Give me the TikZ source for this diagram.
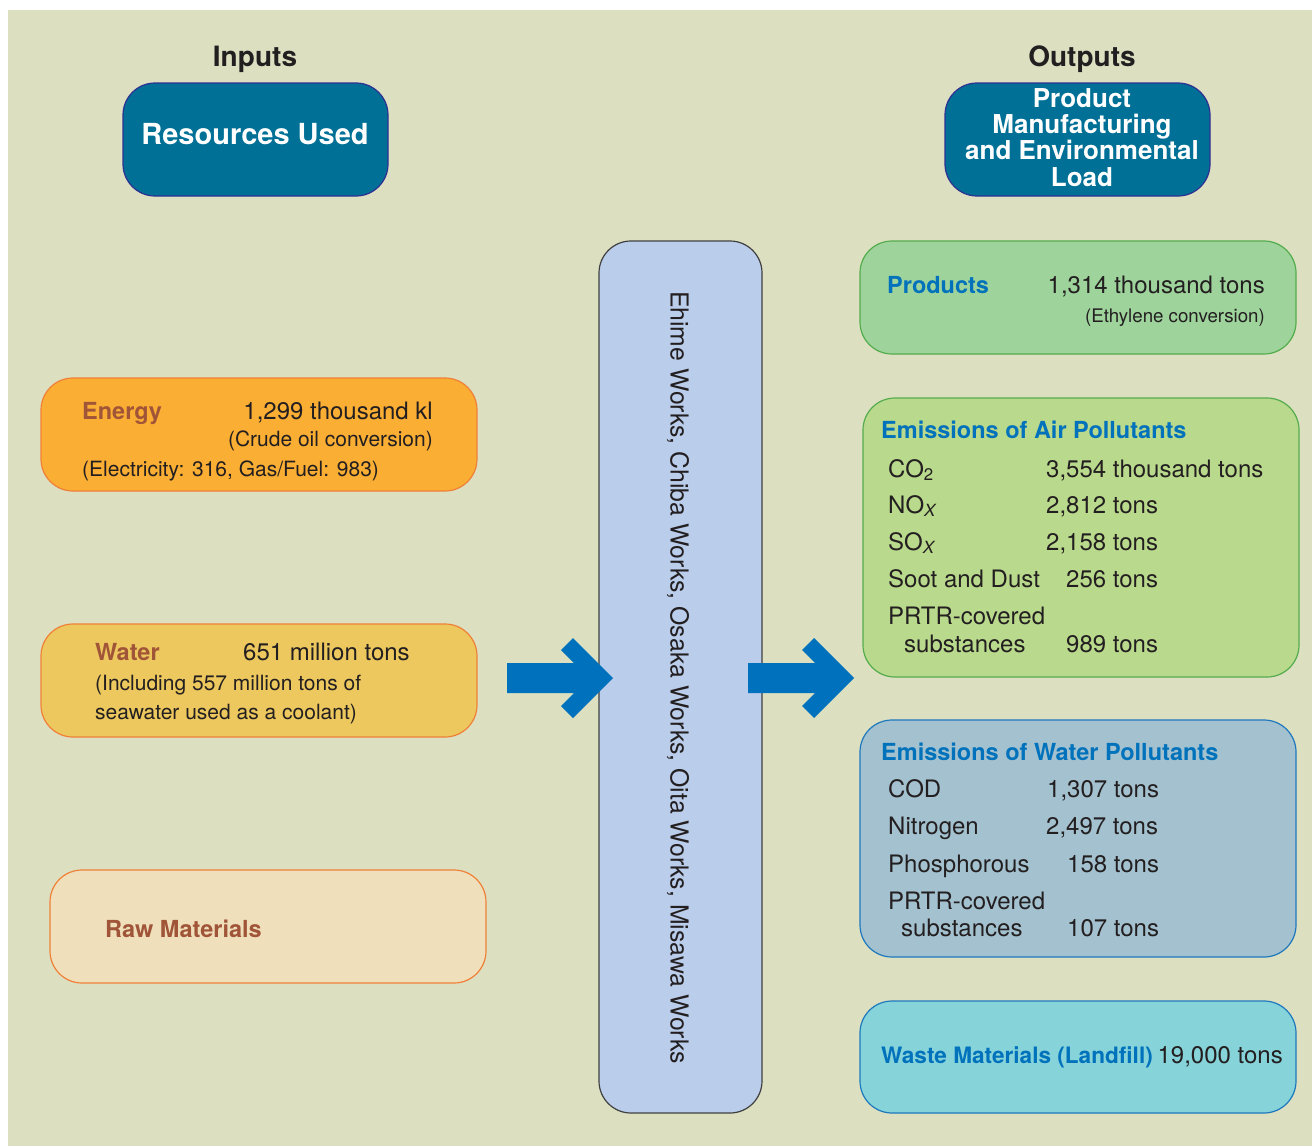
\documentclass[tikz,border=0pt]{standalone}
\usepackage{fontspec}
\setmainfont{TeX Gyre Heros}
\definecolor{bgpaper}{RGB}{220,224,193}
\definecolor{hdfill}{RGB}{0,112,150}
\definecolor{hdline}{RGB}{46,49,146}
\definecolor{ink}{RGB}{35,31,32}
\definecolor{orangeline}{RGB}{240,128,56}
\definecolor{energyfill}{RGB}{250,174,52}
\definecolor{waterfill}{RGB}{236,200,94}
\definecolor{rawfill}{RGB}{239,223,187}
\definecolor{rawtext}{RGB}{160,84,56}
\definecolor{worksfill}{RGB}{186,205,235}
\definecolor{worksline}{RGB}{64,64,64}
\definecolor{arrowblue}{RGB}{0,113,188}
\definecolor{prodfill}{RGB}{158,211,156}
\definecolor{greenline}{RGB}{84,172,76}
\definecolor{airfill}{RGB}{185,217,140}
\definecolor{wpolfill}{RGB}{163,193,206}
\definecolor{blueline}{RGB}{30,120,190}
\definecolor{wastefill}{RGB}{134,211,218}
\definecolor{titleblue}{RGB}{0,114,188}

\begin{document}
\begin{tikzpicture}[x=1pt,y=-1pt,
    box/.style={draw,rounded corners=32pt,line width=1.2pt,inner sep=0pt},
    head/.style={font=\fontsize{28}{30}\selectfont\bfseries,text=ink,inner sep=0pt,anchor=base},
    hdtext/.style={font=\fontsize{28}{26.5}\selectfont\bfseries,text=white,inner sep=0pt,anchor=base},
    lbl/.style={font=\fontsize{23.5}{26}\selectfont\bfseries,text=rawtext,inner sep=0pt,anchor=base west},
    ttl/.style={font=\fontsize{23.5}{26}\selectfont\bfseries,text=titleblue,inner sep=0pt,anchor=base west},
    val/.style={font=\fontsize{24}{28}\selectfont,text=ink,inner sep=0pt,anchor=base west},
    note/.style={font=\fontsize{21}{24}\selectfont,text=ink,inner sep=0pt,anchor=base west}]

    \useasboundingbox (0,0) rectangle (1312,1146);
    \fill[white] (0,0) rectangle (1312,1146);
    \fill[bgpaper] (8,10) rectangle (1312,1146);

    % headings
    \node[head] (inlbl) at (255,66) {Inputs};
    \node[head] (outlbl) at (1082,66) {Outputs};
    \node[box,draw=hdline,fill=hdfill,minimum width=265pt,minimum height=113pt] (resbox) at (255.5,139.5) {};
    \node[hdtext,font=\fontsize{29}{30}\selectfont\bfseries] (restxt) at (255,144) {Resources Used};
    \node[box,draw=hdline,fill=hdfill,minimum width=265pt,minimum height=113pt] (loadbox) at (1077.5,139.5) {};
    % base of a multi-line node is its last line
    \node[hdtext,font=\fontsize{26}{26.3}\selectfont\bfseries,align=center] (loadtxt) at (1082,186)
        {Product\\Manufacturing\\and Environmental\\Load};

    % inputs
    \node[box,draw=orangeline,fill=energyfill,minimum width=436pt,minimum height=113pt] (energy) at (259,434.5) {};
    \node[lbl] (energylbl) at (82,419) {Energy};
    \node[val,anchor=base east] (energyval) at (433,419) {1,299 thousand kl};
    \node[note,anchor=base east] (energynote) at (433,446) {(Crude oil conversion)};
    \node[note] (energysplit) at (82,476) {(Electricity: 316, Gas/Fuel: 983)};

    \node[box,draw=orangeline,fill=waterfill,minimum width=436pt,minimum height=113pt] (water) at (259,680.5) {};
    \node[lbl] (waterlbl) at (95,660) {Water};
    \node[val] (waterval) at (243,660) {651 million tons};
    \node[note] (waternote) at (95,690) {(Including 557 million tons of};
    \node[note] (waternotetwo) at (95,719) {seawater used as a coolant)};

    \node[box,draw=orangeline,fill=rawfill,minimum width=436pt,minimum height=113pt] (raw) at (268,926.5) {};
    \node[lbl] (rawlbl) at (105,937) {Raw Materials};

    % works
    \node[box,draw=worksline,fill=worksfill,minimum width=163pt,minimum height=872pt] (works) at (680.5,677) {};
    \node[font=\fontsize{24.8}{28}\selectfont,text=ink,rotate=-90,inner sep=0pt] (workstxt) at (678,677.5)
        {Ehime Works, Chiba Works, Osaka Works, Oita Works, Misawa Works};

    % outputs
    \node[box,draw=greenline,fill=prodfill,minimum width=436pt,minimum height=113pt] (products) at (1078,297.5) {};
    \node[ttl] (prodlbl) at (887,293) {Products};
    \node[val,anchor=base east] (prodval) at (1265,293) {1,314 thousand tons};
    \node[note,font=\fontsize{18.7}{22}\selectfont,anchor=base east] (prodnote) at (1265,322) {(Ethylene conversion)};

    \node[box,draw=greenline,fill=airfill,minimum width=436pt,minimum height=279pt] (air) at (1081,537.5) {};
    \node[ttl] (airlbl) at (881,438.5) {Emissions of Air Pollutants};
    \node[val] (coname) at (888,477) {CO\textsubscript{2}};
    \node[val] (coval) at (1046,477) {3,554 thousand tons};
    \node[val] (noname) at (888,513) {NO\textsubscript{\textit{X}}};
    \node[val] (noval) at (1046,513) {2,812 tons};
    \node[val] (soname) at (888,550) {SO\textsubscript{\textit{X}}};
    \node[val] (soval) at (1046,550) {2,158 tons};
    \node[val] (sootname) at (888,587) {Soot and Dust};
    \node[val] (sootval) at (1066,587) {256 tons};
    \node[val] (airprtr) at (888,624) {PRTR-covered};
    \node[val] (airsubst) at (904,652) {substances};
    \node[val] (airprtrval) at (1066,652) {989 tons};

    \node[box,draw=blueline,fill=wpolfill,minimum width=436pt,minimum height=237pt] (wpol) at (1078,838.5) {};
    \node[ttl] (wpollbl) at (881,760) {Emissions of Water Pollutants};
    \node[val] (codname) at (888,797) {COD};
    \node[val] (codval) at (1047,797) {1,307 tons};
    \node[val] (nname) at (888,834) {Nitrogen};
    \node[val] (nval) at (1046,834) {2,497 tons};
    \node[val] (pname) at (888,872) {Phosphorous};
    \node[val] (pval) at (1067,872) {158 tons};
    \node[val] (wprtr) at (888,909) {PRTR-covered};
    \node[val] (wsubst) at (901,936) {substances};
    \node[val] (wprtrval) at (1067,936) {107 tons};

    \node[box,draw=blueline,fill=wastefill,minimum width=436pt,minimum height=112pt] (waste) at (1078,1057) {};
    \node[ttl,font=\fontsize{22.6}{26}\selectfont\bfseries] (wastelbl) at (881,1063) {Waste Materials (Landfill)};
    \node[val,anchor=base east] (wasteval) at (1283,1063) {19,000 tons};

    % flow arrows
    \coordinate (arrin) at (507,678);
    \coordinate (arrout) at (748,678);
    \foreach \a in {arrin,arrout}
        \fill[arrowblue] (\a) ++(0,-15) -- ++(67,0) -- ++(-13,-13) -- ++(12,-12) -- ++(40,40)
            -- ++(-40,40) -- ++(-12,-12) -- ++(13,-13) -- ++(-67,0) -- cycle;
\end{tikzpicture}
\end{document}
